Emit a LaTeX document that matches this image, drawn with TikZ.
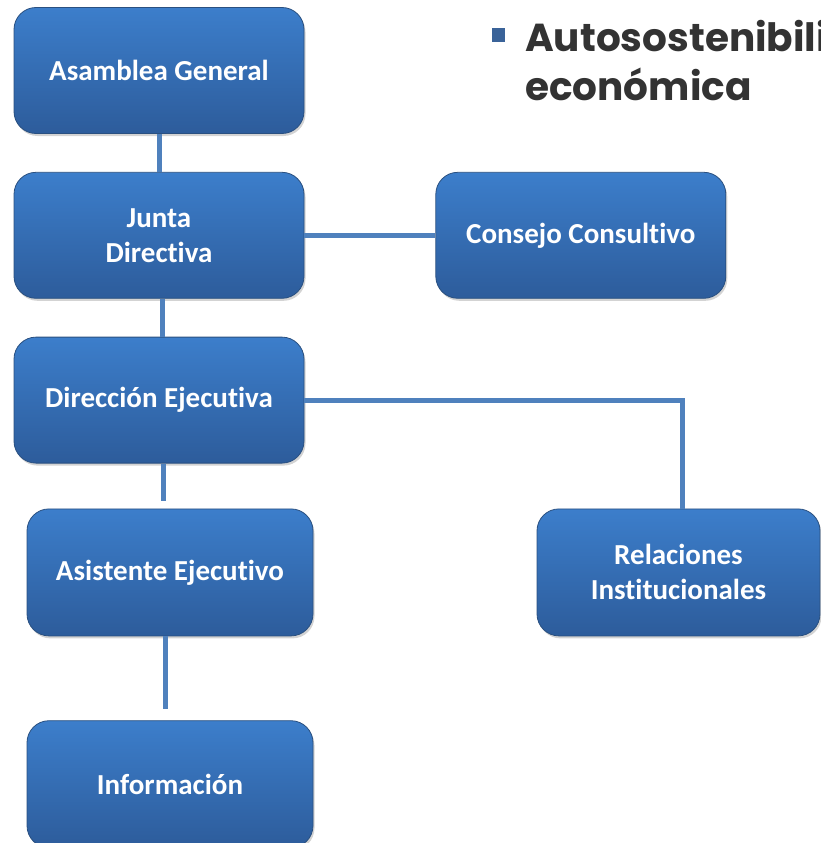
\documentclass[tikz,border=0pt]{standalone}
\usepackage{fontspec}
\setsansfont{Carlito}[RawFeature=-liga]
\newfontfamily\titlefont{Poppins}
\usetikzlibrary{calc,positioning,shadows}
\definecolor{boxtop}{HTML}{3C7ECB}
\definecolor{boxbot}{HTML}{2D5C9B}
\definecolor{boxedge}{HTML}{2A5080}
\definecolor{linkblue}{HTML}{4F81BD}
\definecolor{bulletblue}{HTML}{3A6399}
\definecolor{titlegray}{HTML}{333333}
\tikzset{
  basic/.style  = {rounded corners=22pt, top color=boxtop, bottom color=boxbot,
                   draw=boxedge, line width=0.8pt, text=white, align=center,
                   font=\sffamily\bfseries\fontsize{29}{35}\selectfont,
                   drop shadow={shadow xshift=1.5pt, shadow yshift=-2.5pt, opacity=0.35}},
  wide/.style   = {basic, minimum width=290pt, minimum height=126pt},
  narrow/.style = {basic, minimum width=286pt, minimum height=127pt},
  link/.style   = {draw=linkblue, line width=5pt},
  title/.style  = {anchor=base west, inner sep=0pt, text=titlegray,
                   font=\titlefont\bfseries\fontsize{39}{46}\selectfont}
}

\begin{document}
\begin{tikzpicture}[x=1pt, y=1pt]
\useasboundingbox (0,0) rectangle (821,-843);
\clip (0,0) rectangle (821,-843);

% main column
\node[wide] (asamblea) at (159,-70.5) {Asamblea General};
\node[wide, below=38pt of asamblea] (junta) {Junta\\Directiva};
\node[wide, below=38pt of junta] (direccion) {Direcci\'on Ejecutiva};
\node[narrow, below=45pt of direccion, xshift=11pt] (asistente) {Asistente Ejecutivo};
\node[narrow, below=84pt of asistente] (informacion) {Informaci\'on};

% side boxes
\node[wide, right=131pt of junta] (consejo) {Consejo Consultivo};
\node[narrow, minimum width=283pt, anchor=north west] (relaciones)
  at ($(asistente.north west)+(510pt,0)$) {Relaciones\\Institucionales};

% title text, top right
\fill[bulletblue] (492,-28) rectangle (505,-42);
\node[title] (titulo1) at (525,-52) {Autosostenibilidad};
\node[title] (titulo2) at (525,-100) {econ\'omica};

% connectors
\draw[link] (asamblea.south) -- (junta.north);
\draw[link] ([xshift=3pt]junta.south) -- ([xshift=3pt]direccion.north);
\draw[link] (junta.east) -- (consejo.west);
\draw[link, shorten >=8pt] ([xshift=4pt]direccion.south) -- ([xshift=4pt]direccion.south |- asistente.north);
\draw[link, shorten >=11pt] ([xshift=-5pt]asistente.south) -- ([xshift=-5pt]informacion.north);
\draw[link] (direccion.east) -| ([xshift=4pt]relaciones.north);
\end{tikzpicture}
\end{document}
